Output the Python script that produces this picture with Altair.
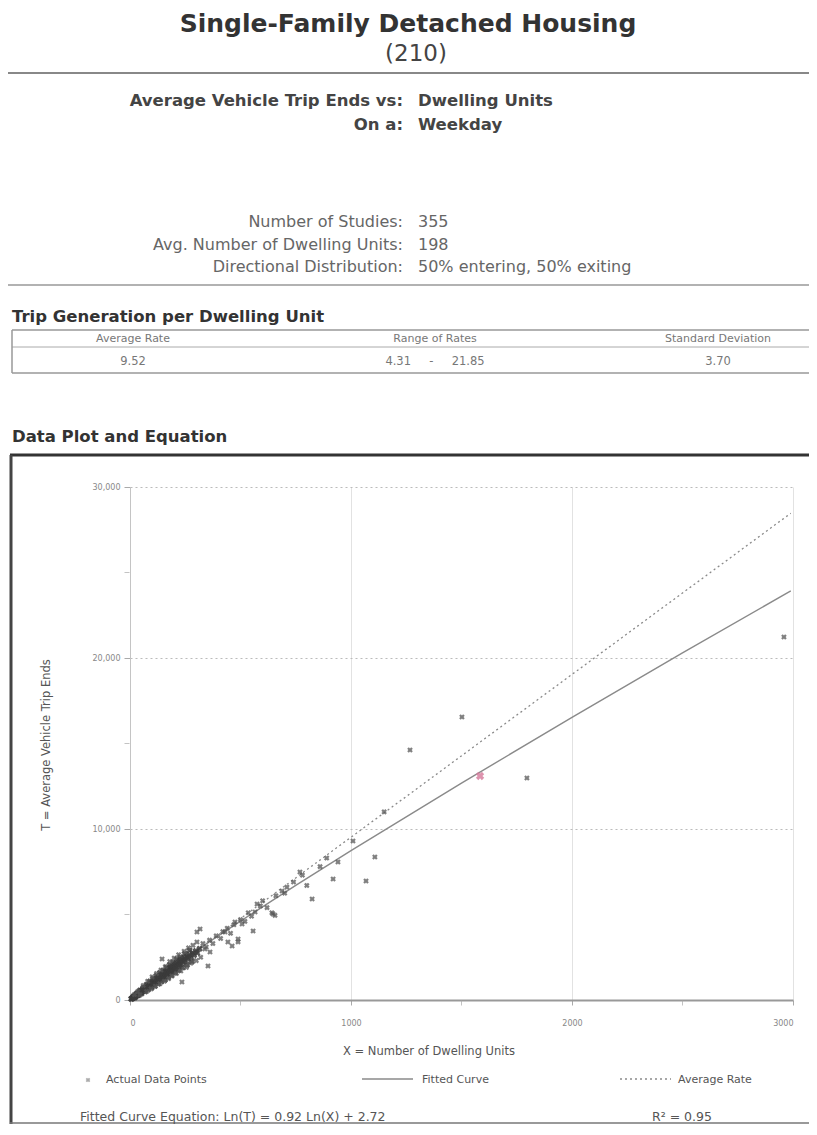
import altair as alt
import pandas as pd

# ---------------- values ----------------
TITLE = "Single-Family Detached Housing"
CODE = "(210)"
AVG_RATE = 9.52
RATE_MIN, RATE_MAX = 4.31, 21.85
STD_DEV = 3.70
FIT_SLOPE = 0.92
FIT_INTERCEPT = 2.72
R2 = 0.95

header_labels = ["Average Vehicle Trip Ends vs:", "On a:"]
header_values = ["Dwelling Units", "Weekday"]
stat_labels = ["Number of Studies:", "Avg. Number of Dwelling Units:", "Directional Distribution:"]
stat_values = ["355", "198", "50% entering, 50% exiting"]
table_heads = ["Average Rate", "Range of Rates", "Standard Deviation"]

x_ticks = [0, 1000, 2000, 3000]
y_ticks = [0, 10000, 20000, 30000]
x_minor = [500, 1500, 2500]
y_minor = [5000, 15000, 25000]

# dense band of small studies (units, trips)
band_points = [
    (5, 60), (8, 95), (10, 80), (12, 115), (14, 150), (15, 130), (18, 160), (20, 210), (21, 180),
    (24, 250), (25, 220), (27, 230), (28, 300), (30, 310), (31, 260), (33, 350), (35, 300), (36, 380),
    (38, 340), (40, 420), (41, 370), (43, 450), (45, 400), (46, 480), (48, 430), (50, 520), (51, 460),
    (53, 560), (55, 490), (56, 600), (58, 530), (60, 620), (61, 560), (63, 660), (65, 580), (66, 700),
    (68, 620), (70, 720), (71, 650), (73, 770), (75, 680), (76, 800), (78, 710), (80, 840), (81, 750),
    (83, 870), (85, 780), (86, 910), (88, 800), (90, 930), (91, 850), (93, 980), (95, 870), (96, 1010),
    (98, 900), (100, 1050), (101, 930), (103, 1080), (105, 960), (106, 1120), (108, 990), (110, 1150),
    (112, 1030), (113, 1190), (115, 1060), (117, 1210), (119, 1100), (120, 1260), (122, 1130),
    (124, 1290), (126, 1160), (128, 1330), (130, 1200), (131, 1370), (133, 1240), (135, 1400),
    (137, 1270), (139, 1450), (141, 1300), (143, 1480), (145, 1340), (147, 1530), (149, 1370),
    (151, 1560), (153, 1410), (155, 1600), (157, 1440), (159, 1650), (161, 1470), (163, 1680),
    (165, 1520), (167, 1720), (170, 1560), (172, 1770), (174, 1590), (177, 1810), (179, 1630),
    (182, 1860), (184, 1680), (187, 1900), (190, 1720), (192, 1950), (195, 1770), (198, 2000),
    (200, 1810), (203, 2060), (207, 1880), (210, 2120), (214, 1950), (218, 2200), (222, 2020),
    (226, 2280), (230, 2100), (235, 2370), (240, 2200), (245, 2450), (250, 2300), (256, 2540),
    (262, 2400), (268, 2640), (275, 2500), (282, 2760), (290, 2620), (298, 2880), (305, 2750),
    (315, 3000),
    (15, 200), (22, 140), (30, 380), (38, 270), (45, 560), (52, 380), (60, 720), (68, 500),
    (75, 900), (82, 610), (90, 1080), (98, 720), (105, 1250), (112, 820), (120, 1420), (128, 950),
    (135, 1580), (142, 1080), (150, 1720), (158, 1180), (165, 1900), (172, 1330), (180, 2050),
    (188, 1450), (195, 2200), (205, 1600), (212, 2380), (220, 1750), (228, 2500), (238, 1900),
    (248, 2700), (258, 2050), (270, 2900), (280, 2250),
]

# scatter around the band
spread_points = [
    (20, 320), (35, 500), (45, 300), (60, 850), (75, 500), (80, 1100), (95, 650), (100, 1350),
    (115, 800), (120, 1550), (135, 950), (140, 1750), (155, 1100), (160, 1950), (175, 1250),
    (180, 2250), (190, 1400), (200, 2450), (210, 1550), (220, 2650), (230, 1700), (245, 2850),
    (255, 1900), (265, 3050), (275, 2150), (285, 3200), (300, 2300), (320, 2500), (330, 3300),
    (345, 3100), (360, 3500), (375, 3300), (390, 3750), (410, 3600), (420, 4000), (440, 4200),
    (455, 3900), (470, 4400), (500, 4700), (520, 4600), (535, 5100), (550, 4900), (600, 5800),
    (620, 5400), (660, 6100), (710, 6600), (740, 6900), (780, 7300), (800, 6700), (860, 7800),
    (890, 8300),
]

# individual larger studies
large_points = [
    (303, 3977), (430, 3977), (475, 4561), (566, 5146), (642, 5100), (339, 2983), (462, 3158),
    (489, 3400), (145, 2398), (235, 1053), (353, 1988), (443, 3392), (489, 3567), (557, 4035),
    (507, 4444), (317, 4152), (303, 3392), (362, 2807), (575, 5614), (590, 5500), (647, 5029),
    (656, 4950), (688, 6374), (700, 6250), (769, 7485), (824, 5906), (919, 7076), (941, 8070),
    (1009, 9298), (1068, 6959), (1108, 8363), (1150, 11000), (1267, 14620), (1502, 16550),
    (1796, 12983), (2959, 21228),
]

marked_point = [(1584, 13100)]

curve_units = [5, 10, 20, 50, 100, 200, 350, 500, 750, 1000, 1500, 2000, 2500, 2990]
avg_units = [0, 2990]

# ---------------- build ----------------
W, H = 663, 513
FONT = "DejaVu Sans"
NB = "\u00a0"

band = pd.DataFrame(band_points, columns=["units", "trips"])
pts = pd.DataFrame(spread_points + large_points, columns=["units", "trips"])
marked = pd.DataFrame(marked_point, columns=["units", "trips"])

xs = alt.Scale(domain=[0, 3000], nice=False)
ys = alt.Scale(domain=[0, 30000], nice=False)

x_axis = alt.Axis(values=x_ticks, format="d", title=None, labelFont=FONT, labelFontSize=8,
                  labelColor="#888", domainColor="#999", domainWidth=2, tickColor="#aaa",
                  tickSize=5, labelPadding=14, gridColor="#e2e2e2", gridWidth=1)
y_axis = alt.Axis(values=y_ticks, labelExpr="format(datum.value, ',')", title=None,
                  labelFont=FONT, labelFontSize=8,
                  labelColor="#888", domainColor="#c4c4c4", domainWidth=1, tickColor="#aaa",
                  tickSize=6, labelPadding=4, gridColor="#bbbbbb", gridDash=[2, 3], gridWidth=1)

X = alt.X("units:Q", scale=xs, axis=x_axis)
Y = alt.Y("trips:Q", scale=ys, axis=y_axis)


def one():
    return alt.Data(values=[{"k": 0}])


def txt(s, x, y, size=12, weight="normal", align="left", color="#444", angle=None,
        baseline="alphabetic"):
    kw = dict(text=s, fontSize=size, fontWeight=weight, align=align, color=color, font=FONT,
              baseline=baseline)
    if angle is not None:
        kw["angle"] = angle
    return alt.Chart(one()).mark_text(**kw).encode(x=alt.value(x), y=alt.value(y))


def hline(x1, x2, y, color="#999", w=1.0):
    return alt.Chart(one()).mark_rule(color=color, strokeWidth=w).encode(
        x=alt.value(x1), x2=alt.value(x2), y=alt.value(y))


def vline(x, y1, y2, color="#999", w=1.0):
    return alt.Chart(one()).mark_rule(color=color, strokeWidth=w).encode(
        x=alt.value(x), y=alt.value(y1), y2=alt.value(y2))


# data layers
fit = alt.Chart(pd.DataFrame({"units": curve_units})).transform_calculate(
    trips=f"exp({FIT_SLOPE}*log(datum.units)+{FIT_INTERCEPT})"
).mark_line(color="#8a8a8a", strokeWidth=1.4).encode(x=X, y=Y)
avg = alt.Chart(pd.DataFrame({"units": avg_units})).transform_calculate(
    trips=f"{AVG_RATE}*datum.units"
).mark_line(color="#8a8a8a", strokeWidth=1.3, strokeDash=[2, 3]).encode(x=X, y=Y)
band_layer = alt.Chart(band).mark_point(shape="cross", angle=45, filled=True, size=42,
                                         color="#3c3c3c", opacity=0.85).encode(x=X, y=Y)
scatter = alt.Chart(pts).mark_point(shape="cross", angle=45, filled=True, size=32,
                                     color="#555555", opacity=0.75).encode(x=X, y=Y)
mark_pt = alt.Chart(marked).mark_point(shape="cross", angle=45, filled=True, size=70,
                                        color="#d4789a", opacity=0.8).encode(x=X, y=Y)
xminor = alt.Chart(pd.DataFrame({"units": x_minor})).mark_tick(
    orient="vertical", size=5, thickness=1, color="#aaa").encode(x=X, y=alt.value(H + 3))
yminor = alt.Chart(pd.DataFrame({"trips": y_minor})).mark_tick(
    orient="horizontal", size=5, thickness=1, color="#aaa").encode(y=Y, x=alt.value(-3))

layers = [fit, avg, band_layer, scatter, mark_pt, xminor, yminor]

# header
layers.append(txt(TITLE, 278, -455, size=25, weight="bold", align="center", color="#333"))
layers.append(txt(CODE, 286, -426, size=23, align="center", color="#444"))
layers.append(hline(-122, 680, -414, color="#888", w=2))
for i, (lab, val) in enumerate(zip(header_labels, header_values)):
    yy = -381 + i * 24
    layers.append(txt(lab, 273, yy, size=16.5, weight="bold", align="right", color="#444"))
    layers.append(txt(val, 288, yy, size=16.5, weight="bold", align="left", color="#444"))
for i, (lab, val) in enumerate(zip(stat_labels, stat_values)):
    yy = -260 + i * 22.5
    layers.append(txt(lab, 273, yy, size=16, align="right", color="#666"))
    layers.append(txt(val, 288, yy, size=16, align="left", color="#666"))
layers.append(hline(-122, 680, -202, color="#999", w=1.5))

# trip generation table
layers.append(txt("Trip Generation per Dwelling Unit", -118, -165, size=16.5, weight="bold", color="#333"))
layers.append(hline(-118, 680, -157, color="#999", w=1.5))
layers.append(hline(-118, 680, -140, color="#aaa", w=1))
layers.append(hline(-118, 680, -114, color="#999", w=1.5))
layers.append(vline(-118, -157, -114, color="#999", w=1.5))
col_x = [3, 305, 588]
row_vals = [f"{AVG_RATE:.2f}", f"{RATE_MIN:.2f}{NB * 5}-{NB * 5}{RATE_MAX:.2f}", f"{STD_DEV:.2f}"]
for cx, head, val in zip(col_x, table_heads, row_vals):
    layers.append(txt(head, cx, -148, size=11, align="center", color="#777", baseline="middle"))
    layers.append(txt(val, cx, -125, size=11.5, align="center", color="#777", baseline="middle"))

# data plot box
layers.append(txt("Data Plot and Equation", -118, -45, size=16.5, weight="bold", color="#333"))
layers.append(hline(-120, 680, -32, color="#333", w=3))
layers.append(vline(-119, -32, 637, color="#444", w=3))
layers.append(hline(-120, 680, 636, color="#777", w=1.5))

# axis titles
layers.append(txt("T = Average Vehicle Trip Ends", -83, 258, size=11.5, align="center", color="#555",
                  angle=270, baseline="middle"))
layers.append(txt("X = Number of Dwelling Units", 299, 565, size=11.5, align="center", color="#555",
                  baseline="middle"))

# legend
layers.append(alt.Chart(one()).mark_point(shape="cross", angle=45, filled=True, size=22,
                                          color="#888").encode(x=alt.value(-42), y=alt.value(593)))
layers.append(txt("Actual Data Points", -24, 593, size=11, color="#555", baseline="middle"))
layers.append(hline(232, 283, 592, color="#8a8a8a", w=1.3))
layers.append(txt("Fitted Curve", 292, 593, size=11, color="#555", baseline="middle"))
layers.append(alt.Chart(one()).mark_rule(color="#8a8a8a", strokeWidth=1.3, strokeDash=[2, 3]).encode(
    x=alt.value(490), x2=alt.value(541), y=alt.value(592)))
layers.append(txt("Average Rate", 548, 593, size=11, color="#555", baseline="middle"))
layers.append(txt(f"Fitted Curve Equation:  Ln(T) = {FIT_SLOPE:.2f} Ln(X) + {FIT_INTERCEPT:.2f}",
                  -50, 630, size=12.5, color="#555", baseline="middle"))
layers.append(txt(f"R\u00b2 = {R2:.2f}", 522, 630, size=12.5, color="#555", baseline="middle"))

chart = alt.layer(*layers).properties(
    width=W, height=H,
    padding={"left": 122, "top": 479, "right": 16, "bottom": 126},
    autosize=alt.AutoSizeParams(type="none"),
    background="white",
).configure_view(stroke=None)

chart.save("out.html", embed_options={"renderer": "svg", "actions": False})
